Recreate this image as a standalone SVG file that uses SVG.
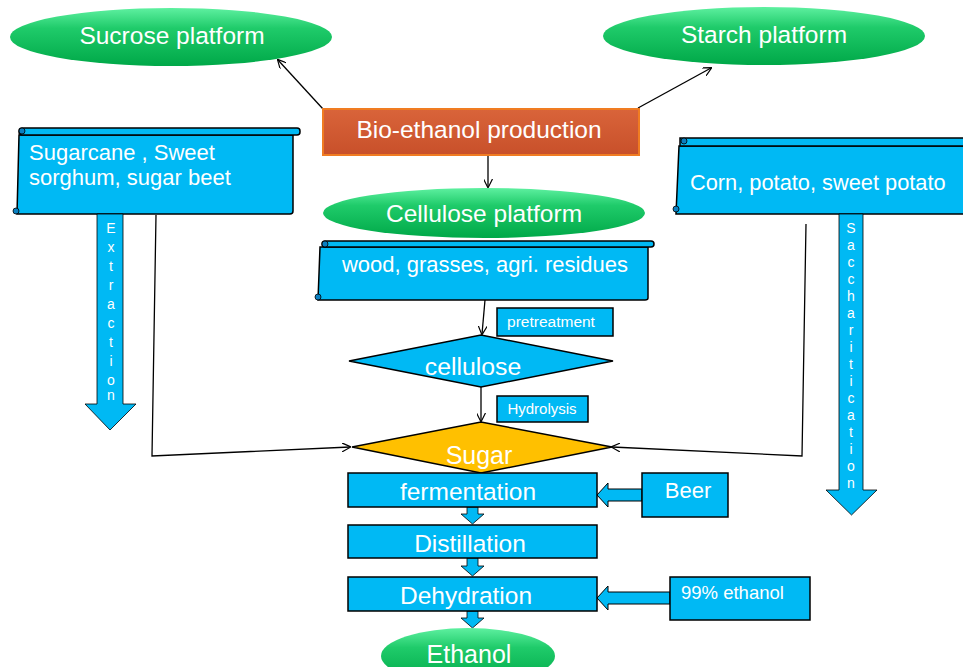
<svg xmlns="http://www.w3.org/2000/svg" width="963" height="667" viewBox="0 0 963 667">
<defs>
<linearGradient id="gr" x1="0" y1="0" x2="0" y2="1">
<stop offset="0" stop-color="#5EF0A0"/>
<stop offset="0.35" stop-color="#1FCB6A"/>
<stop offset="1" stop-color="#00A848"/>
</linearGradient>
<linearGradient id="or" x1="0" y1="0" x2="0" y2="1">
<stop offset="0" stop-color="#D9643A"/>
<stop offset="1" stop-color="#C8502A"/>
</linearGradient>
<marker id="ah" viewBox="0 0 10 10" refX="9" refY="5" markerWidth="9" markerHeight="9" orient="auto" markerUnits="userSpaceOnUse">
<path d="M0,0 L10,5 L0,10" fill="none" stroke="#000" stroke-width="1.3"/>
</marker>
</defs>
<style>
.t{font-family:"Liberation Sans",Arial,sans-serif;fill:#fff;}
.blue{fill:#00B9F4;stroke:#000;stroke-width:1.5;}
.bluef{fill:#00B9F4;}
.ell{fill:url(#gr);}
.ln{fill:none;stroke:#000;stroke-width:1.3;}
</style>
<rect width="963" height="667" fill="#fff"/>

<g id="connectors">
<line class="ln" x1="323" y1="109" x2="278" y2="60" marker-end="url(#ah)"/>
<line class="ln" x1="638" y1="108" x2="711" y2="68" marker-end="url(#ah)"/>
<line class="ln" x1="488" y1="155" x2="488" y2="187" stroke-width="2" marker-end="url(#ah)"/>
<line class="ln" x1="485" y1="300" x2="482" y2="334" marker-end="url(#ah)"/>
<line class="ln" x1="481" y1="387" x2="481" y2="421" stroke-width="2" marker-end="url(#ah)"/>
<polyline class="ln" points="156,215 152,456 350,447" marker-end="url(#ah)"/>
<polyline class="ln" points="806,224 802,456 612,447" marker-end="url(#ah)"/>
<polygon class="bluef" stroke="#000" stroke-width="0.8" points="467,507 478,507 478,514 484,514 472.5,524 461,514 467,514"/>
<polygon class="bluef" stroke="#000" stroke-width="0.8" points="467,558 478,558 478,566 484,566 472.5,576 461,566 467,566"/>
<polygon class="bluef" stroke="#000" stroke-width="0.8" points="467,611 478,611 478,618 484,618 472.5,628 461,618 467,618"/>
<polygon class="bluef" stroke="#000" stroke-width="1" points="642,489 608,489 608,483 597,495 608,507 608,501 642,501"/>
<polygon class="bluef" stroke="#000" stroke-width="1" points="670,592 608,592 608,586 597,598 608,610 608,604 670,604"/>
</g>

<g id="sucrose">
<ellipse cx="171" cy="37" rx="161" ry="29" class="ell"/>
<text class="t" x="172" y="44" font-size="24.5" text-anchor="middle">Sucrose platform</text>
</g>

<g id="starch">
<ellipse cx="764" cy="36" rx="161" ry="29" class="ell"/>
<text class="t" x="764" y="43" font-size="24.5" text-anchor="middle">Starch platform</text>
</g>

<g id="bioethanol">
<rect x="323" y="109" width="316" height="46" fill="url(#or)" stroke="#F07C22" stroke-width="2"/>
<text class="t" x="479" y="138" font-size="24.5" text-anchor="middle">Bio-ethanol production</text>
</g>

<g id="cellulose-platform">
<ellipse cx="484" cy="213" rx="161" ry="25" class="ell"/>
<text class="t" x="484" y="222" font-size="24.5" text-anchor="middle">Cellulose platform</text>
</g>

<g id="sugarcane">
<path class="blue" d="M20,135 L293,135 L293,211 Q293,214 290,214 L17,214 L19,135 Z"/>
<rect class="blue" x="19" y="128" width="281" height="7" rx="3"/>
<circle cx="22" cy="131" r="3" fill="#0A7FC0" stroke="#000" stroke-width="0.8"/>
<circle cx="16" cy="211" r="3" fill="#0A7FC0" stroke="#000" stroke-width="0.8"/>
<text class="t" x="29" y="160" font-size="22">Sugarcane , Sweet</text>
<text class="t" x="29" y="185" font-size="22">sorghum, sugar beet</text>
</g>

<g id="extraction">
<polygon class="bluef" stroke="#000" stroke-width="0.8" points="97,214 123,214 123,404 136,404 110,430 85,404 97,404"/>
<g class="t" font-size="14" text-anchor="middle">
<text x="111" y="233">E</text>
<text x="111" y="252">x</text>
<text x="111" y="271">t</text>
<text x="111" y="290">r</text>
<text x="111" y="309">a</text>
<text x="111" y="328">c</text>
<text x="111" y="347">t</text>
<text x="111" y="366">i</text>
<text x="111" y="385">o</text>
<text x="111" y="400">n</text>
</g>
</g>

<g id="corn">
<path class="blue" d="M681,146 L970,146 L970,214 L676,214 L679,146 Z"/>
<rect class="blue" x="680" y="138" width="290" height="8"/>
<circle cx="684" cy="141" r="3" fill="#0A7FC0" stroke="#000" stroke-width="0.8"/>
<circle cx="676" cy="209" r="3" fill="#0A7FC0" stroke="#000" stroke-width="0.8"/>
<text class="t" x="690" y="190" font-size="21.8">Corn, potato, sweet potato</text>
</g>

<g id="saccharification">
<polygon class="bluef" stroke="#000" stroke-width="0.8" points="839,214 863,214 863,490 877,490 851.5,515 826,490 839,490"/>
<g class="t" font-size="14" text-anchor="middle">
<text x="851" y="233">S</text>
<text x="851" y="250">a</text>
<text x="851" y="267">c</text>
<text x="851" y="284">c</text>
<text x="851" y="301">h</text>
<text x="851" y="318">a</text>
<text x="851" y="335">r</text>
<text x="851" y="352">i</text>
<text x="851" y="369">t</text>
<text x="851" y="386">i</text>
<text x="851" y="403">c</text>
<text x="851" y="420">a</text>
<text x="851" y="437">t</text>
<text x="851" y="454">i</text>
<text x="851" y="471">o</text>
<text x="851" y="488">n</text>
</g>
</g>

<g id="wood">
<path class="blue" d="M322,247 L648,247 L648,298 Q648,300 645,300 L318,300 L320,247 Z"/>
<rect class="blue" x="322" y="241" width="332" height="6" rx="3"/>
<circle cx="325" cy="244" r="3" fill="#0A7FC0" stroke="#000" stroke-width="0.8"/>
<circle cx="318" cy="297" r="3" fill="#0A7FC0" stroke="#000" stroke-width="0.8"/>
<text class="t" x="485" y="272" font-size="22" text-anchor="middle">wood, grasses, agri. residues</text>
</g>

<g id="pretreatment">
<rect class="blue" x="497" y="308" width="116" height="28"/>
<text class="t" x="551" y="327" font-size="15.5" text-anchor="middle">pretreatment</text>
</g>

<g id="cellulose">
<polygon class="blue" points="349,361 481,335 613,361 481,387"/>
<text class="t" x="473" y="375" font-size="24.8" text-anchor="middle">cellulose</text>
</g>

<g id="hydrolysis">
<rect class="blue" x="497" y="396" width="91" height="26"/>
<text class="t" x="542" y="414" font-size="15" text-anchor="middle">Hydrolysis</text>
</g>

<g id="sugar">
<polygon points="352,447 481,422 612,447 481,473" fill="#FFC000" stroke="#000" stroke-width="1.5"/>
<text class="t" x="479" y="464" font-size="25" text-anchor="middle">Sugar</text>
</g>

<g id="fermentation">
<rect class="blue" x="348" y="473" width="249" height="34"/>
<text class="t" x="468" y="500" font-size="24.5" text-anchor="middle">fermentation</text>
</g>

<g id="beer">
<rect class="blue" x="642" y="473" width="86" height="44"/>
<text class="t" x="688" y="498" font-size="22" text-anchor="middle">Beer</text>
</g>

<g id="distillation">
<rect class="blue" x="348" y="525" width="249" height="33"/>
<text class="t" x="470" y="552" font-size="24.5" text-anchor="middle">Distillation</text>
</g>

<g id="dehydration">
<rect class="blue" x="348" y="577" width="249" height="34"/>
<text class="t" x="466" y="604" font-size="24.5" text-anchor="middle">Dehydration</text>
</g>

<g id="ethanol99">
<rect class="blue" x="670" y="577" width="140" height="43"/>
<text class="t" x="681" y="599" font-size="18.5">99% ethanol</text>
</g>

<g id="ethanol">
<ellipse cx="468" cy="656" rx="87" ry="28" class="ell"/>
<text class="t" x="469" y="663" font-size="25" text-anchor="middle">Ethanol</text>
</g>
</svg>
